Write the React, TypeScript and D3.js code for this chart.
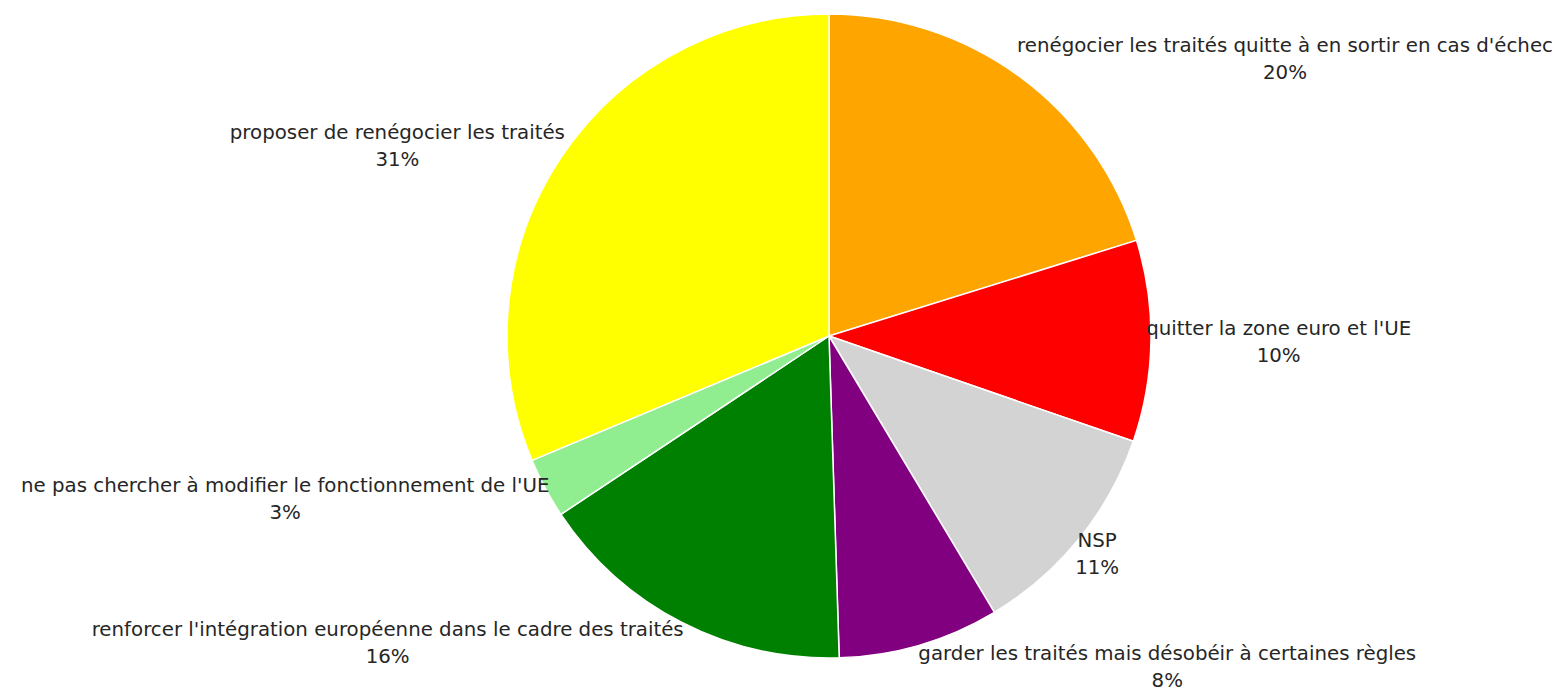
import React, { useRef, useEffect } from "react";
import * as d3 from "d3";

const labels = [
  "renégocier les traités quitte à en sortir en cas d'échec",
  "quitter la zone euro et l'UE",
  "NSP",
  "garder les traités mais désobéir à certaines règles",
  "renforcer l'intégration européenne dans le cadre des traités",
  "ne pas chercher à modifier le fonctionnement de l'UE",
  "proposer de renégocier les traités",
];
const values = [20, 10, 11, 8, 16, 3, 31];
const colors = ["#ffa500", "#ff0000", "#d3d3d3", "#800080", "#008000", "#90ee90", "#ffff00"];

const W = 1559;
const H = 691;

const App = () => {
  const ref = useRef<SVGSVGElement>(null);

  useEffect(() => {
    const svg = d3.select(ref.current);
    svg.selectAll("*").remove();

    const cx = 829;
    const cy = 336;
    const radius = 322;
    // label anchors sit just outside the rim (a bit further vertically)
    const distX = 0.985;
    const distY = 1.07;

    const data = labels.map((label, i) => ({ label, value: values[i], color: colors[i] }));
    const pie = d3
      .pie<any>()
      .value((d) => d.value)
      .sort(null);
    const arc = d3.arc<any>().innerRadius(0).outerRadius(radius);

    const g = svg.append("g").attr("transform", `translate(${cx},${cy})`);

    const arcs = pie(data);
    g.selectAll("path")
      .data(arcs)
      .enter()
      .append("path")
      .attr("d", arc)
      .attr("fill", (d) => d.data.color)
      .attr("stroke", "#fff")
      .attr("stroke-width", 1.5)
      .attr("stroke-linejoin", "round");

    // labels: left/right aligned at the anchor, the two lines centred on each other
    arcs.forEach((d) => {
      const a = (d.startAngle + d.endAngle) / 2;
      const x = Math.sin(a) * radius * distX;
      const y = -Math.cos(a) * radius * distY;
      const lg = g.append("g");
      const t = lg
        .append("text")
        .attr("text-anchor", "middle")
        .style("font-family", "'DejaVu Sans', sans-serif")
        .style("font-size", "19.8px")
        .style("fill", "#262626");
      t.append("tspan").attr("x", 0).attr("y", -13.5).attr("dy", "0.35em").text(d.data.label);
      t.append("tspan").attr("x", 0).attr("y", 13.5).attr("dy", "0.35em").text(`${d.data.value}%`);
      const w = (t.node() as SVGTextElement).getBBox().width;
      lg.attr("transform", `translate(${x > 0 ? x + w / 2 : x - w / 2},${y})`);
    });
  }, []);

  return (
    <svg
      ref={ref}
      width={W}
      height={H}
      style={{ position: "absolute", left: 0, top: 0, background: "#fff" }}
    />
  );
};

export default App;
